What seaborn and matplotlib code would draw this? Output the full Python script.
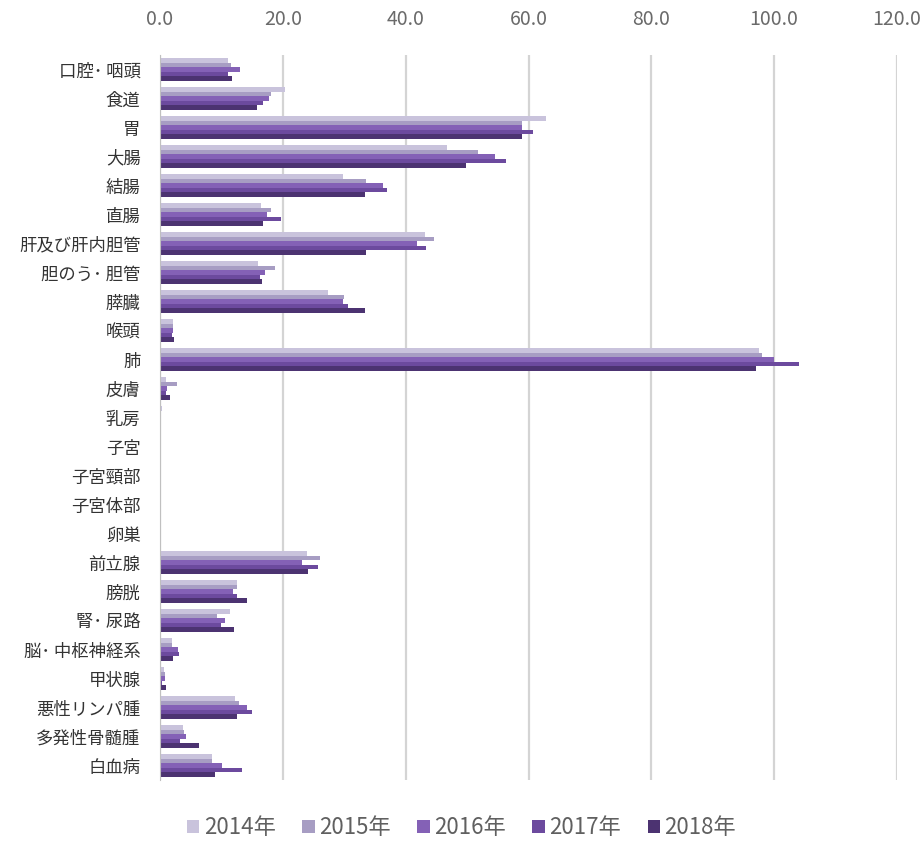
import matplotlib.pyplot as plt
import seaborn as sns
import pandas as pd
from matplotlib.ticker import FormatStrFormatter

sites = ['口腔･ 咽頭', '食道', '胃', '大腸', '結腸', '直腸', '肝及び肝内胆管', '胆のう･ 胆管',
         '膵臓', '喉頭', '肺', '皮膚', '乳房', '子宮', '子宮頸部', '子宮体部', '卵巣',
         '前立腺', '膀胱', '腎･ 尿路', '脳･ 中枢神経系', '甲状腺', '悪性リンパ腫',
         '多発性骨髄腫', '白血病']
years = ['2014年', '2015年', '2016年', '2017年', '2018年']

y2014 = [11.0, 20.3, 62.9, 46.7, 29.8, 16.4, 43.1, 16.0, 27.3, 2.1, 97.5, 1.0, 0.3, 0, 0, 0, 0,
         23.9, 12.6, 11.4, 1.9, 0.6, 12.2, 3.7, 8.4]
y2015 = [11.5, 18.0, 59.0, 51.7, 33.5, 18.0, 44.6, 18.7, 29.9, 2.1, 98.0, 2.8, 0, 0, 0, 0, 0,
         26.0, 12.6, 9.2, 2.0, 0.8, 12.9, 3.9, 8.4]
y2016 = [13.0, 17.7, 58.9, 54.5, 36.3, 17.4, 41.8, 17.1, 29.8, 2.1, 100.0, 1.2, 0, 0, 0, 0, 0,
         23.1, 11.9, 10.6, 3.0, 0.8, 14.1, 4.3, 10.1]
y2017 = [11.1, 16.7, 60.7, 56.3, 36.9, 19.7, 43.3, 16.3, 30.6, 2.0, 104.0, 1.0, 0, 0, 0, 0, 0,
         25.7, 12.5, 10.0, 3.1, 0.4, 14.9, 3.3, 13.3]
y2018 = [11.7, 15.8, 59.0, 49.9, 33.3, 16.7, 33.5, 16.6, 33.3, 2.2, 97.0, 1.7, 0, 0, 0, 0, 0,
         24.1, 14.2, 12.0, 2.1, 0.9, 12.5, 6.4, 8.9]

colors = ['#c9c3dc', '#a79dc3', '#8461b6', '#6c4a9e', '#4c3371']

df = pd.DataFrame({'site': sites, years[0]: y2014, years[1]: y2015, years[2]: y2016,
                   years[3]: y2017, years[4]: y2018})
df = df.melt(id_vars='site', var_name='year', value_name='value')

sns.set_style('white')
plt.rcParams['font.family'] = ['Noto Sans CJK JP', 'DejaVu Sans']

fig = plt.figure(figsize=(9.23, 8.41), dpi=100)
ax = fig.add_axes([160 / 923, 1 - 780 / 841, (897 - 160) / 923, 725 / 841])

sns.barplot(data=df, x='value', y='site', hue='year', orient='h', order=sites,
            hue_order=years, palette=colors, width=0.8, linewidth=0, saturation=1,
            ax=ax, legend=True)

ax.set_xlim(0, 120)
ax.set_xticks(range(0, 121, 20))
ax.xaxis.set_major_formatter(FormatStrFormatter('%.1f'))
ax.xaxis.tick_top()
ax.tick_params(axis='x', length=0, labelsize=14, labelcolor='#6a6a6a', pad=18)
ax.tick_params(axis='y', length=0, labelsize=12.5, labelcolor='#333333', pad=14)
ax.grid(axis='x', color='#d4d4d4', linewidth=1.6)
ax.set_axisbelow(True)
for s in ['top', 'right', 'bottom']:
    ax.spines[s].set_visible(False)
ax.spines['left'].set_color('#c0c0c0')
ax.set_xlabel('')
ax.set_ylabel('')

handles, labels = ax.get_legend_handles_labels()
ax.get_legend().remove()
fig.legend(handles, labels, loc='center', bbox_to_anchor=(0.5, 1 - 828 / 841), ncol=5,
           frameon=False, fontsize=16, handlelength=0.55, handleheight=0.55,
           handletextpad=0.2, columnspacing=1.2, labelcolor='#606060')

fig.savefig('out.png', dpi=100)
